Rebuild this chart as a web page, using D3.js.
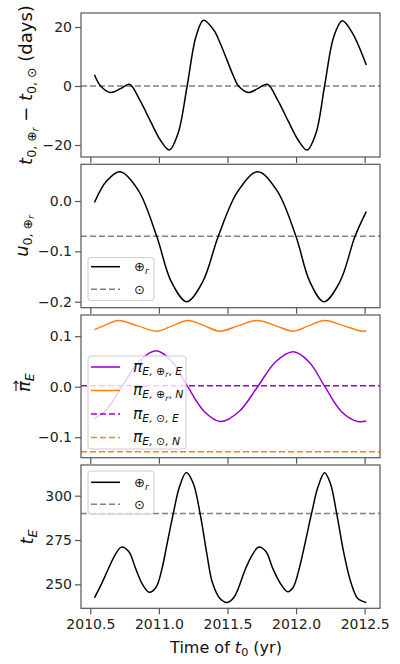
<!DOCTYPE html>
<html><head><meta charset="utf-8">
<script src="https://cdn.jsdelivr.net/npm/d3@7"></script>
<style>body{margin:0;background:#fff} svg{display:block} text{white-space:pre}</style>
</head><body><svg id="c" width="400" height="664"></svg>
<script>
// ---------------- data ----------------
const xTicks = [2010.5, 2011.0, 2011.5, 2012.0, 2012.5];

const t0Years = [2010.53, 2010.575, 2010.646, 2010.72, 2010.785, 2010.86, 2010.94, 2011.01, 2011.077, 2011.14, 2011.206, 2011.27, 2011.325, 2011.40, 2011.447, 2011.545, 2011.58, 2011.655, 2011.72, 2011.79, 2011.865, 2011.945, 2012.015, 2012.08, 2012.145, 2012.208, 2012.275, 2012.337, 2012.41, 2012.512];
const t0Diff  = [3.8, 0, -2.2, -0.9, 0.6, -4.7, -12.1, -18.3, -21.7, -16, 0, 16.7, 22.3, 19, 14.5, 3.2, 0, -2.2, -0.9, 0.6, -4.7, -12.1, -18.3, -21.7, -16, 0, 16.7, 22.1, 18, 7.1];
const t0Sun = 0;
const t0Ticks = [-20, 0, 20];

const u0Years = [2010.53, 2010.62, 2010.717, 2010.85, 2010.984, 2011.09, 2011.203, 2011.32, 2011.433, 2011.575, 2011.72, 2011.86, 2011.999, 2012.10, 2012.203, 2012.32, 2012.43, 2012.512];
const u0Earth = [-0.003, 0.040, 0.058, 0.021, -0.070, -0.160, -0.200, -0.160, -0.070, 0.019, 0.058, 0.021, -0.070, -0.160, -0.200, -0.160, -0.070, -0.021];
const u0Sun = -0.07;
const u0Ticks = [-0.2, -0.1, 0.0];

const piEYears = [2010.53, 2010.62, 2010.73, 2010.855, 2010.98, 2011.095, 2011.21, 2011.33, 2011.45, 2011.585, 2011.72, 2011.85, 2011.98, 2012.095, 2012.21, 2012.33, 2012.45, 2012.512];
const piEEarthE = [-0.063, -0.045, 0.000, 0.050, 0.071, 0.050, 0.000, -0.049, -0.069, -0.049, 0.000, 0.049, 0.069, 0.049, 0.000, -0.049, -0.069, -0.068];
const piNYears = [2010.53, 2010.60, 2010.704, 2010.84, 2010.984, 2011.10, 2011.21, 2011.33, 2011.445, 2011.58, 2011.717, 2011.85, 2011.98, 2012.095, 2012.21, 2012.345, 2012.48, 2012.512];
const piEEarthN = [0.113, 0.121, 0.131, 0.121, 0.110, 0.121, 0.131, 0.121, 0.110, 0.121, 0.131, 0.121, 0.110, 0.121, 0.131, 0.121, 0.110, 0.111];
const piESunE = 0.002;
const piESunN = -0.129;
const piTicks = [-0.1, 0.0, 0.1];

const tEYears = [2010.53, 2010.58, 2010.63, 2010.68, 2010.726, 2010.78, 2010.83, 2010.88, 2010.93, 2010.98, 2011.02, 2011.06, 2011.105, 2011.15, 2011.199, 2011.25, 2011.30, 2011.35, 2011.39, 2011.445, 2011.498, 2011.55, 2011.63, 2011.68, 2011.728, 2011.78, 2011.83, 2011.89, 2011.94, 2011.98, 2012.02, 2012.065, 2012.113, 2012.16, 2012.208, 2012.25, 2012.296, 2012.35, 2012.40, 2012.45, 2012.512];
const tEEarth = [242.4, 250, 258.5, 266.5, 271, 268.5, 259, 250, 245.5, 248.5, 258, 273, 290, 305, 313, 307, 290, 267, 251, 242, 239.8, 243, 258.5, 266.5, 271, 268.5, 259, 250, 245.8, 248.5, 258, 273, 290, 305, 313, 307, 290, 267, 251, 242, 239.8];
const tESun = 290;
const tETicks = [250, 275, 300];

// ---------------- layout ----------------
const svg = d3.select('#c');
const FONT = "'DejaVu Sans', sans-serif";
svg.attr('font-family', FONT);
const xL = 81, xR = 380;
const x = d3.scaleLinear().domain([2010.432, 2012.612]).range([xL, xR]);
const PURPLE = '#9400d3', ORANGE = '#ff7f0e', GREY = '#808080', SPINE = '#555';

function mathText(parent, px, py, parts, size, anchor) {
  const t = parent.append('text').attr('x', px).attr('y', py)
    .attr('font-size', size).attr('text-anchor', anchor || 'start').attr('fill', '#111');
  const shifts = [0, 0.22, 0.36], scales = [1, 0.7, 0.5];
  let cur = 0;
  parts.forEach(p => {
    const lvl = p[2] || 0;
    const target = shifts[lvl] * size;
    t.append('tspan').text(p[0]).attr('font-size', size * scales[lvl])
      .attr('font-style', p[1] ? 'italic' : 'normal').attr('dy', target - cur);
    cur = target;
  });
  return t;
}

const panels = [
  {top: 13, bottom: 157, dom: [-24.07, 24.75], ticks: t0Ticks, fmt: d3.format('d')},
  {top: 164.3, bottom: 307.7, dom: [-0.2119, 0.0729], ticks: u0Ticks, fmt: d3.format('.1f')},
  {top: 315, bottom: 457.7, dom: [-0.1406, 0.142], ticks: piTicks, fmt: d3.format('.1f')},
  {top: 465, bottom: 608.3, dom: [236.5, 317.3], ticks: tETicks, fmt: d3.format('d')}
];

panels.forEach((p, i) => {
  p.y = d3.scaleLinear().domain(p.dom).range([p.bottom, p.top]);
  const g = svg.append('g');
  const ax = g.append('g').attr('transform', `translate(0,${p.bottom})`)
    .call(d3.axisBottom(x).tickValues(xTicks).tickSize(6).tickPadding(5)
      .tickFormat(i === 3 ? d3.format('.1f') : () => ''));
  const ay = g.append('g').attr('transform', `translate(${xL},0)`)
    .call(d3.axisLeft(p.y).tickValues(p.ticks).tickSize(6).tickPadding(3).tickFormat(p.fmt));
  [ax, ay].forEach(a => {
    a.select('.domain').remove();
    a.selectAll('.tick line').attr('stroke', SPINE).attr('stroke-width', 1.2);
    a.selectAll('.tick text').attr('font-size', 14).attr('fill', '#222').attr('font-family', FONT);
  });
});

function line(yScale) {
  return d3.line().x(d => x(d[0])).y(d => yScale(d[1])).curve(d3.curveCatmullRom.alpha(0.5));
}
function drawSeries(p, years, vals, color, dash) {
  svg.append('path').datum(years.map((yr, k) => [yr, vals[k]]))
    .attr('d', line(p.y)).attr('fill', 'none').attr('stroke', color)
    .attr('stroke-width', 1.5).attr('stroke-dasharray', dash || null);
}
function hline(p, v, color) {
  svg.append('line').attr('x1', xL).attr('x2', xR).attr('y1', p.y(v)).attr('y2', p.y(v))
    .attr('stroke', color).attr('stroke-width', 1.5).attr('stroke-dasharray', '6,3');
}

hline(panels[0], t0Sun, GREY);
drawSeries(panels[0], t0Years, t0Diff, '#000');
hline(panels[1], u0Sun, GREY);
drawSeries(panels[1], u0Years, u0Earth, '#000');
drawSeries(panels[2], piEYears, piEEarthE, PURPLE);
drawSeries(panels[2], piNYears, piEEarthN, ORANGE);
hline(panels[2], piESunE, PURPLE);
hline(panels[2], piESunN, ORANGE);
hline(panels[3], tESun, GREY);
drawSeries(panels[3], tEYears, tEEarth, '#000');

panels.forEach(p => {
  svg.append('rect').attr('x', xL).attr('y', p.top).attr('width', xR - xL).attr('height', p.bottom - p.top)
    .attr('fill', 'none').attr('stroke', SPINE).attr('stroke-width', 1.2);
});

function legendBox(bx, by, bw, bh) {
  svg.append('rect').attr('x', bx).attr('y', by).attr('width', bw).attr('height', bh)
    .attr('rx', 3).attr('fill', 'white').attr('fill-opacity', 0.8).attr('stroke', '#ccc').attr('stroke-width', 1);
}
function legendLine(ly, color, dash) {
  svg.append('line').attr('x1', 91).attr('x2', 120).attr('y1', ly).attr('y2', ly)
    .attr('stroke', color).attr('stroke-width', 1.5).attr('stroke-dasharray', dash || null);
}
const earthLbl = [['⊕', 0, 0], ['r', 1, 1]];
const sunLbl = [['⊙', 0, 0]];
[[257.5, 266.7, 289.3], [471, 482.3, 504.3]].forEach(([by, l1, l2]) => {
  legendBox(88, by, 66, 43);
  legendLine(l1, '#000');
  legendLine(l2, GREY, '6,3');
  mathText(svg, 134, l1 + 4.5, earthLbl, 13);
  mathText(svg, 134, l2 + 4.5, sunLbl, 13);
});
legendBox(88, 356, 98, 93);
const piEntries = [
  [367, PURPLE, null, [['π', 1], ['E, ⊕', 1, 1], ['r', 1, 2], [', ', 0, 1], ['E', 1, 1]]],
  [390.5, ORANGE, null, [['π', 1], ['E, ⊕', 1, 1], ['r', 1, 2], [', ', 0, 1], ['N', 1, 1]]],
  [414, PURPLE, '6,3', [['π', 1], ['E, ⊙, ', 1, 1], ['E', 1, 1]]],
  [437.5, ORANGE, '6,3', [['π', 1], ['E, ⊙, ', 1, 1], ['N', 1, 1]]]
];
piEntries.forEach(([ly, c, d, parts]) => {
  legendLine(ly, c, d);
  mathText(svg, 133, ly + 4.5, parts, 15.5);
});

function yLabel(bx, cy, parts, size) {
  const g = svg.append('g').attr('transform', `translate(${bx},${cy}) rotate(-90)`);
  return mathText(g, 0, 0, parts, size, 'middle');
}
yLabel(32, 85, [['t', 1], ['0, ⊕', 0, 1], ['r', 1, 2], [' − ', 0], ['t', 1], ['0, ⊙', 0, 1], [' (days)', 0]], 18);
yLabel(28, 236, [['u', 1], ['0, ⊕', 0, 1], ['r', 1, 2]], 18);
const gpi = svg.append('g').attr('transform', `translate(30,383) rotate(-90)`);
mathText(gpi, -9, 0, [['π', 1], ['E', 1, 1]], 18);
gpi.append('path').attr('d', 'M-8,-14 H2 M-1,-16.5 L2,-14 L-1,-11.5').attr('fill', 'none')
  .attr('stroke', '#111').attr('stroke-width', 1.1);
yLabel(33, 537, [['t', 1], ['E', 1, 1]], 18);
mathText(svg, 226, 652.5, [['Time of ', 0], ['t', 1], ['0', 0, 1], [' (yr)', 0]], 16, 'middle');
</script></body></html>
